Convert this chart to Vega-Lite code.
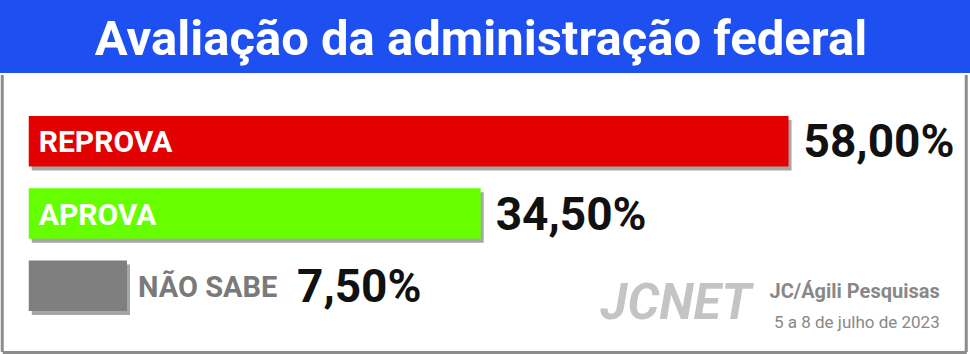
{
  "$schema": "https://vega.github.io/schema/vega-lite/v6.json",
  "background": "white",
  "padding": {"left": 0, "top": 0, "right": 0, "bottom": 4},
  "autosize": {"type": "pad"},
  "spacing": 0,
  "center": true,
  "config": {
    "locale": {"number": {"decimal": ",", "thousands": ".", "grouping": [3], "currency": ["R$", ""]}},
    "view": {"stroke": null},
    "font": "Roboto"
  },
  "vconcat": [
    {
      "width": 970,
      "height": 73,
      "view": {"fill": "#1e4ff0", "stroke": null},
      "data": {"values": [{"titulo": "Avaliação da administração federal"}]},
      "mark": {"type": "text", "color": "white", "font": "Roboto", "fontWeight": "bold", "fontSize": 49, "baseline": "alphabetic", "align": "center", "dx": -4, "dy": 18},
      "encoding": {"text": {"field": "titulo", "type": "nominal"}}
    },
    {
      "width": 964,
      "height": 277,
      "data": {"values": [
        {"categoria": "REPROVA", "valor": 0.58},
        {"categoria": "APROVA", "valor": 0.345},
        {"categoria": "NÃO SABE", "valor": 0.075}
      ]},
      "layer": [
        {
          "mark": {"type": "bar", "color": "#3a3a3a", "opacity": 0.45, "xOffset": 3, "x2Offset": 3, "yOffset": 4, "y2Offset": 4},
          "encoding": {
            "y": {"field": "categoria", "type": "nominal", "sort": null,
                  "scale": {"paddingInner": 0.3, "paddingOuter": 0.567}, "axis": null},
            "x": {"field": "valor", "type": "quantitative", "scale": {"domain": [-0.02023, 0.71565], "nice": false, "zero": false},
                  "axis": {"orient": "bottom", "labels": false, "ticks": false, "grid": false, "title": null, "domain": true, "domainColor": "#8c8c8c", "domainWidth": 3, "minExtent": 0, "maxExtent": 0}},
            "x2": {"datum": 0}
          }
        },
        {
          "mark": {"type": "bar"},
          "encoding": {
            "y": {"field": "categoria", "type": "nominal", "sort": null},
            "x": {"field": "valor", "type": "quantitative"},
            "x2": {"datum": 0},
            "color": {"field": "categoria", "type": "nominal", "legend": null,
                      "scale": {"domain": ["REPROVA", "APROVA", "NÃO SABE"], "range": ["#e20000", "#66ff00", "#7f7f7f"]}}
          }
        },
        {
          "transform": [{"filter": "datum.valor > 0.2"}],
          "mark": {"type": "text", "color": "white", "fontWeight": "bold", "fontSize": 30, "align": "left", "baseline": "middle", "dx": 10, "dy": 2},
          "encoding": {"y": {"field": "categoria", "type": "nominal", "sort": null}, "x": {"datum": 0}, "text": {"field": "categoria", "type": "nominal"}}
        },
        {
          "transform": [{"filter": "datum.valor <= 0.2"}],
          "mark": {"type": "text", "color": "#7a7a7a", "fontWeight": "bold", "fontSize": 29, "align": "left", "baseline": "middle", "dx": 11, "dy": 2},
          "encoding": {"y": {"field": "categoria", "type": "nominal", "sort": null}, "x": {"field": "valor", "type": "quantitative"}, "text": {"field": "categoria", "type": "nominal"}}
        },
        {
          "transform": [{"filter": "datum.valor > 0.2"}],
          "mark": {"type": "text", "color": "#111111", "fontWeight": "bold", "fontSize": 46, "align": "left", "baseline": "middle", "dx": 15, "dy": 2},
          "encoding": {"y": {"field": "categoria", "type": "nominal", "sort": null}, "x": {"field": "valor", "type": "quantitative"}, "text": {"field": "valor", "type": "quantitative", "format": ".2%"}}
        },
        {
          "transform": [{"filter": "datum.valor <= 0.2"}],
          "mark": {"type": "text", "color": "#111111", "fontWeight": "bold", "fontSize": 46, "align": "left", "baseline": "middle", "dx": 170, "dy": 2},
          "encoding": {"y": {"field": "categoria", "type": "nominal", "sort": null}, "x": {"field": "valor", "type": "quantitative"}, "text": {"field": "valor", "type": "quantitative", "format": ".2%"}}
        },
        {
          "data": {"values": [{"fonte": "JC/Ágili Pesquisas", "periodo": "5 a 8 de julho de 2023", "logo": "JCNET"}]},
          "layer": [
            {
              "mark": {"type": "text", "color": "#c4c4c4", "fontWeight": "bold", "fontStyle": "italic", "fontSize": 50, "align": "right", "baseline": "alphabetic", "dy": 33},
              "encoding": {"x": {"datum": 0.5515}, "y": {"datum": "NÃO SABE"}, "text": {"field": "logo", "type": "nominal"}}
            },
            {
              "mark": {"type": "text", "color": "#888888", "fontWeight": "bold", "fontSize": 20, "align": "right", "baseline": "alphabetic", "dy": 12},
              "encoding": {"x": {"datum": 0.6954}, "y": {"datum": "NÃO SABE"}, "text": {"field": "fonte", "type": "nominal"}}
            },
            {
              "mark": {"type": "text", "color": "#888888", "fontSize": 17, "align": "right", "baseline": "alphabetic", "dy": 42},
              "encoding": {"x": {"datum": 0.6954}, "y": {"datum": "NÃO SABE"}, "text": {"field": "periodo", "type": "nominal"}}
            }
          ]
        },
        {
          "data": {"values": [{"borda": -0.02023}, {"borda": 0.71565}]},
          "mark": {"type": "rule", "color": "#8c8c8c", "strokeWidth": 3},
          "encoding": {"x": {"field": "borda", "type": "quantitative"}}
        }
      ]
    }
  ]
}
